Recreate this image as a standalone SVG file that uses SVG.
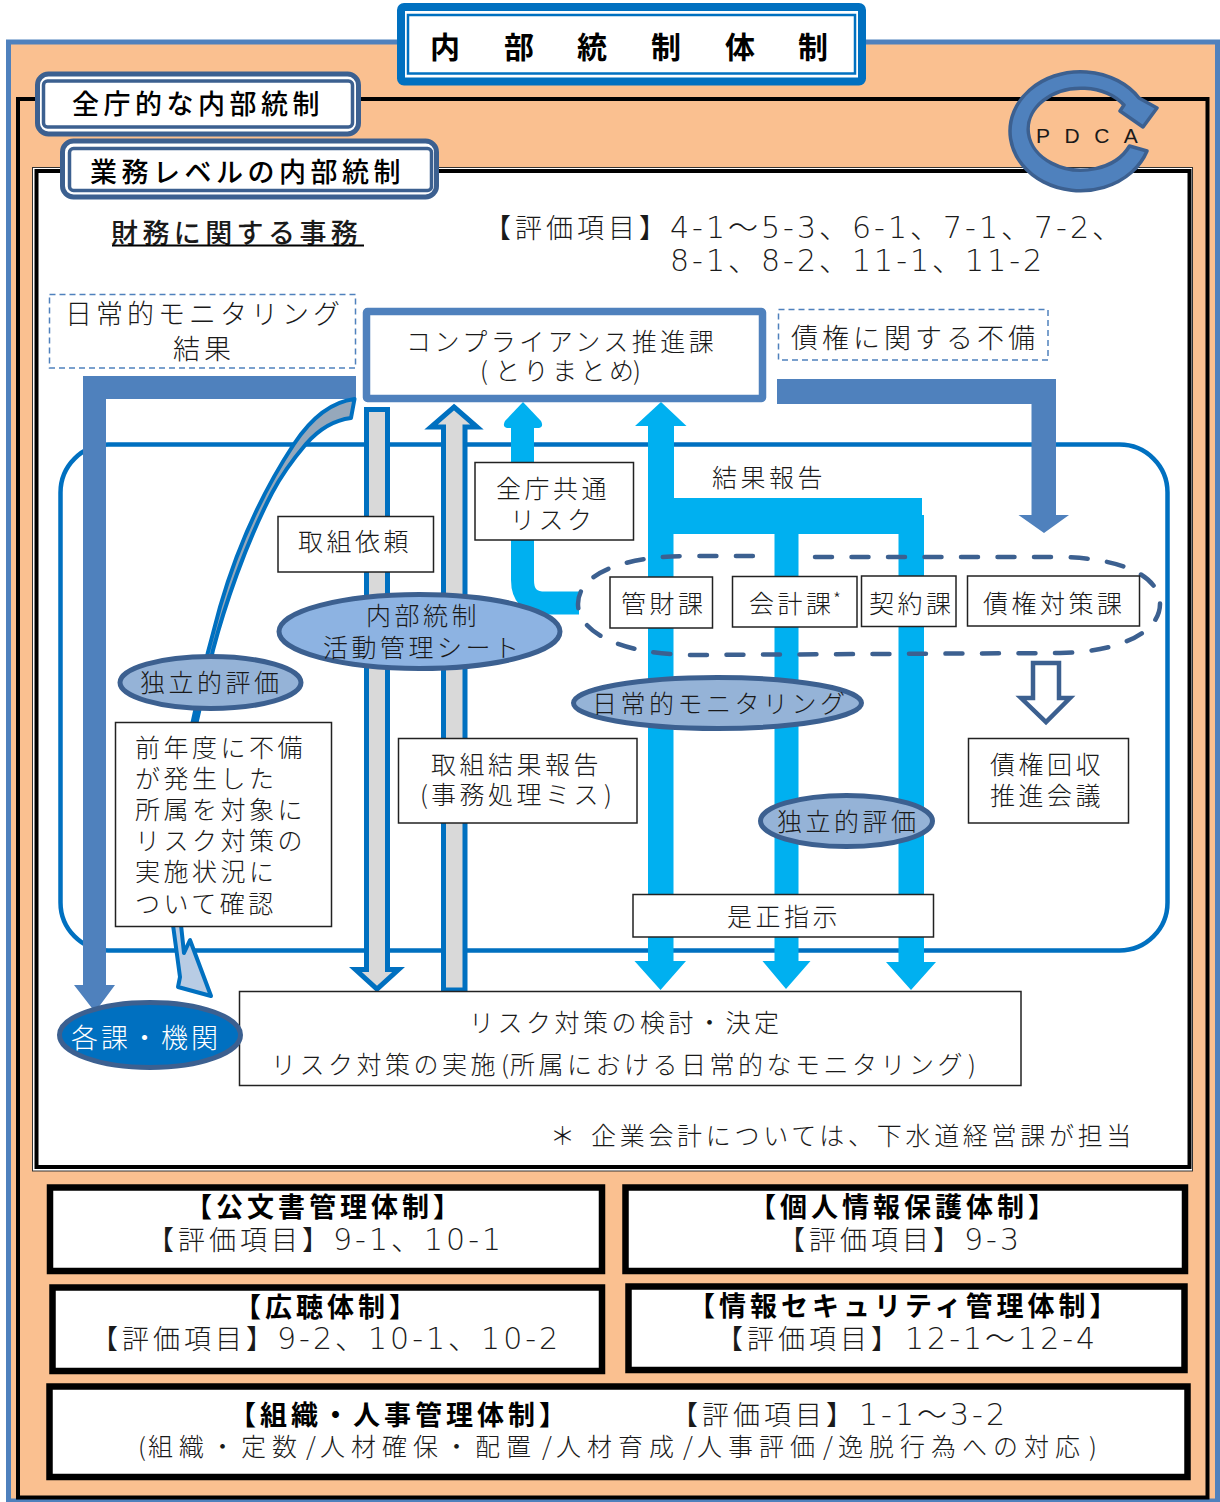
<svg xmlns="http://www.w3.org/2000/svg" width="1220" height="1502" viewBox="0 0 1220 1502">
<style>
text{font-family:"Noto Sans CJK JP","Noto Sans",sans-serif;font-size:25px;letter-spacing:3.5px;fill:#1a1a1a;font-weight:300}
.h{font-size:27px;letter-spacing:4px}
.b{font-size:27px;letter-spacing:4px;font-weight:700;fill:#000}
.m{font-size:27px;letter-spacing:4.500px;font-weight:500;fill:#000}
.n{font-family:"DejaVu Sans ExtraLight","DejaVu Sans","Noto Sans CJK JP",sans-serif;font-size:30px;letter-spacing:3px;font-weight:200}
.box{fill:#fff;stroke:#222;stroke-width:1.5}
.dash{fill:#fff;stroke:#4f81bd;stroke-width:1.5;stroke-dasharray:6 4}
.oval{fill:#95b3d7;stroke:#3c6090;stroke-width:5}
.thick{fill:#fff;stroke:#000;stroke-width:6.5}
.steel{fill:#4f81bd}
.sky{fill:#00b0f0}
.grey{fill:#d9d9d9;stroke:#0070c0;stroke-width:5}
</style>
<g id="background">
<rect x="8.500" y="42" width="1209" height="1459" fill="#fac090" stroke="#4f81bd" stroke-width="5"/>
<rect x="18" y="99" width="1189.500" height="1398.500" fill="none" stroke="#000" stroke-width="4"/>
<rect x="32.500" y="167.500" width="1160" height="1003.500" fill="#fff" stroke="#333" stroke-width="1"/>
<rect x="36.500" y="171" width="1153" height="996" fill="#fff" stroke="#000" stroke-width="4"/>
</g>
<g id="title">
<rect x="401" y="7" width="461" height="74.500" rx="3" fill="#fff" stroke="#0070c0" stroke-width="8"/>
<rect x="408" y="15" width="447" height="58.500" fill="#fff" stroke="#0070c0" stroke-width="2.500"/>
<text class="b" x="430" y="58" style="font-size:30px;letter-spacing:0">内</text>
<text class="b" x="504" y="58" style="font-size:30px;letter-spacing:0">部</text>
<text class="b" x="577" y="58" style="font-size:30px;letter-spacing:0">統</text>
<text class="b" x="651" y="58" style="font-size:30px;letter-spacing:0">制</text>
<text class="b" x="725" y="58" style="font-size:30px;letter-spacing:0">体</text>
<text class="b" x="798" y="58" style="font-size:30px;letter-spacing:0">制</text>
</g>
<g id="label-zencho">
<rect x="37.500" y="74" width="321" height="60" rx="11" fill="#fff" stroke="#3c6090" stroke-width="5"/>
<rect x="43.500" y="81" width="309" height="46" rx="4" fill="#fff" stroke="#3c6090" stroke-width="3.500"/>
<text class="m" x="72" y="114">全庁的な内部統制</text>
</g>
<g id="label-gyomu">
<rect x="62.500" y="141" width="374" height="56" rx="11" fill="#fff" stroke="#3c6090" stroke-width="5"/>
<rect x="69.500" y="148.500" width="362" height="42" rx="4" fill="#fff" stroke="#3c6090" stroke-width="3.500"/>
<text class="m" x="90" y="182">業務レベルの内部統制</text>
</g>
<g id="pdca">
<path d="M1147,151 A70.500 59.500 0 1 1 1139,98 L1157,108 L1143,127 L1120,111 L1124,105 A53 41 0 1 0 1129.500,146 Z" fill="#4f81bd" stroke="#3c6090" stroke-width="3.500" stroke-linejoin="round"/>
<text x="1036" y="143" style="font-family:'Liberation Sans',sans-serif;font-size:21px;letter-spacing:14.500px;font-weight:400">PDCA</text>
</g>
<g id="heading">
<text class="h" x="111" y="243" style="font-weight:500;letter-spacing:4.400px">財務に関する事務</text>
<line x1="112" y1="245.500" x2="364" y2="245.500" stroke="#000" stroke-width="2.200"/>
<text class="h" y="238"><tspan x="484">【評価項目】</tspan><tspan class="n" x="670">4-1～5-3、6-1、7-1、7-2、</tspan></text>
<text class="n" x="670" y="271">8-1、8-2、11-1、11-2</text>
</g>
<g id="region">
<rect x="60.500" y="444.500" width="1107" height="506" rx="48" fill="none" stroke="#0070c0" stroke-width="4.500"/>
</g>
<g id="connectors">
<path class="steel" d="M356,376 H83 V985 H74 L95,1012 L115,985 H106 V399 H356 Z"/>
<path class="steel" d="M777,379 H1056 V515 H1069 L1044,533 L1018.500,515 H1031.500 V404 H777 Z"/>
<path class="grey" d="M366.500,409.500 H387.500 V969.500 H398.500 L377,989 L355.500,969.500 H366.500 Z"/>
<path class="grey" d="M454,407 L477,427 H465 V990 H443.500 V427 H431 Z"/>
<path d="M354.500,399 C330,402 310,420 294,444 C265,488 238,545 220,607 L208,652 L192,725 L196,725 L213,650 C224,608 245,545 272,493 C283,472 295,457 306,444 C320,428 335,420 351,418 Z" fill="#96a8bb" stroke="#0070c0" stroke-width="4" stroke-linejoin="round"/>
<path d="M173,925 L180,977 L178,987 L211,996 L190,940 L184,953 L181,925 Z" fill="#b8cce4" stroke="#0070c0" stroke-width="4" stroke-linejoin="round"/>
<path d="M579,603 H545 Q522.500,603 522.500,580 V420" fill="none" stroke="#00b0f0" stroke-width="23"/>
<path class="sky" d="M523,402 L541,421 Q544,427 539,428 H507 Q502,427 505,421 Z"/>
<path class="sky" d="M661,402 L686.500,426 H674 V498 H922 V515 H924 V962 H936 L911,990 L886,962 H898.500 V534 H798.500 V961 H810.500 L786,989 L762.500,961 H774.500 V534 H673.500 V961 H686 L660.500,990 L634.500,961 H648 V426 H635 Z"/>
<g id="debt-arrow"><path d="M1033,663 H1059 V698 H1070 L1046,722 L1021,698 H1033 Z" fill="#fff" stroke="#3c6090" stroke-width="4.500"/></g>
</g>
<g id="group-depts">
<path d="M815,557 L1060,557 C1120,558 1160,575 1160,604 C1160,632 1120,652 1060,653 L690,655 C620,654 578,632 578,604 C578,575 620,556 690,556 L762,556" fill="none" stroke="#3c6090" stroke-width="4.500" stroke-dasharray="17 19.500" stroke-linecap="round"/>
</g>
<g id="daily-result"><rect class="dash" x="49.500" y="294.500" width="306" height="73.500"/>
<text class="h" x="65" y="324">日常的モニタリング</text><text class="h" x="173" y="359">結果</text></g>
<g id="compliance"><rect x="366.500" y="311.500" width="396" height="87" rx="1" fill="#fff" stroke="#4f81bd" stroke-width="7.500"/>
<text x="406" y="351">コンプライアンス推進課</text><text y="380"><tspan x="480">(</tspan><tspan x="495">とりまとめ</tspan><tspan x="633">)</tspan></text></g>
<g id="debt-defect"><rect class="dash" x="778.500" y="309.500" width="269.500" height="50.500"/>
<text class="h" x="791" y="348">債権に関する不備</text></g>
<g id="request"><rect class="box" x="278" y="516.500" width="155.500" height="55.500"/><text x="298" y="551">取組依頼</text></g>
<g id="common-risk"><rect class="box" x="475" y="462.500" width="158.500" height="77.500"/><text x="496" y="498">全庁共通</text><text x="510" y="529">リスク</text></g>
<g id="result-label"><text x="712" y="487">結果報告</text></g>
<g id="kanzai"><rect class="box" x="610" y="577" width="102.500" height="51"/><text x="621" y="613">管財課</text></g>
<g id="kaikei"><rect class="box" x="732.500" y="576.500" width="124.500" height="50.500"/><text x="749" y="613">会計課</text><text x="833" y="606" style="font-size:18px;letter-spacing:0">*</text></g>
<g id="keiyaku"><rect class="box" x="861.500" y="576" width="94.500" height="50.500"/><text x="869" y="613">契約課</text></g>
<g id="saiken-taisaku"><rect class="box" x="967.500" y="576" width="172" height="50"/><text x="983" y="613">債権対策課</text></g>
<g id="sheet"><ellipse cx="419.500" cy="631.500" rx="140.500" ry="37" class="oval" style="fill:#8db3e2"/><text x="366" y="625">内部統制</text><text x="323" y="657">活動管理シート</text></g>
<g id="independent-1"><ellipse cx="210.500" cy="682.500" rx="90.500" ry="26" class="oval"/><text x="140" y="692">独立的評価</text></g>
<g id="daily-monitoring"><ellipse cx="717.500" cy="703" rx="144" ry="25.500" class="oval"/><text x="592" y="713">日常的モニタリング</text></g>
<g id="independent-2"><ellipse cx="846.500" cy="821" rx="86" ry="25.500" class="oval"/><text x="777" y="831">独立的評価</text></g>
<g id="prior-year"><rect class="box" x="115.500" y="722.500" width="216" height="204"/>
<text x="135" y="757">前年度に不備</text><text x="135" y="788">が発生した</text><text x="135" y="819">所属を対象に</text><text x="135" y="850">リスク対策の</text><text x="135" y="881">実施状況に</text><text x="135" y="913">ついて確認</text></g>
<g id="report"><rect class="box" x="398.500" y="738.500" width="238.500" height="84.500"/><text x="431" y="774">取組結果報告</text><text y="804"><tspan x="420">(</tspan><tspan x="431">事務処理ミス</tspan><tspan x="604">)</tspan></text></g>
<g id="recovery"><rect class="box" x="968.500" y="738.500" width="160" height="84.500"/><text x="990" y="774">債権回収</text><text x="990" y="805">推進会議</text></g>
<g id="correction"><rect class="box" x="633" y="894.500" width="300.500" height="42.500"/><text x="727" y="926">是正指示</text></g>
<g id="measures"><rect class="box" x="239.500" y="991.500" width="781.500" height="94"/><text x="469" y="1032">リスク対策の検討・決定</text><text y="1074"><tspan x="271">リスク対策の実施</tspan><tspan x="501">(</tspan><tspan x="510">所属における日常的なモニタリング</tspan><tspan x="968">)</tspan></text></g>
<g id="departments"><ellipse cx="150" cy="1035" rx="90.500" ry="32.500" fill="#0070c0" stroke="#3c6090" stroke-width="5"/><text x="71" y="1048" style="font-size:27px;letter-spacing:3px;fill:#fff">各課・機関</text></g>
<g id="footnote"><text x="550" y="1145">＊</text><text x="591" y="1145" style="letter-spacing:3.700px">企業会計については、下水道経営課が担当</text></g>
<g id="koubunsho"><rect class="thick" x="50" y="1187.500" width="552" height="83.500"/><text class="b" x="185" y="1217">【公文書管理体制】</text><text class="h" y="1250"><tspan x="147">【評価項目】</tspan><tspan class="n" x="333">9-1、10-1</tspan></text></g>
<g id="kojin"><rect class="thick" x="625.500" y="1187.500" width="559.500" height="83.500"/><text class="b" x="749" y="1217">【個人情報保護体制】</text><text class="h" y="1250"><tspan x="778">【評価項目】</tspan><tspan class="n" x="964">9-3</tspan></text></g>
<g id="kouchou"><rect class="thick" x="52.500" y="1287.500" width="549.500" height="83.500"/><text class="b" x="234" y="1317">【広聴体制】</text><text class="h" y="1349"><tspan x="91">【評価項目】</tspan><tspan class="n" x="277">9-2、10-1、10-2</tspan></text></g>
<g id="joho"><rect class="thick" x="628.500" y="1286.500" width="556" height="83.500"/><text class="b" x="688" y="1316">【情報セキュリティ管理体制】</text><text class="h" y="1349"><tspan x="716">【評価項目】</tspan><tspan class="n" x="905">12-1～12-4</tspan></text></g>
<g id="soshiki"><rect class="thick" x="49.500" y="1386.500" width="1138" height="90.500"/><text class="b" x="229" y="1425">【組織・人事管理体制】</text><text class="h" y="1425"><tspan x="671">【評価項目】</tspan><tspan class="n" x="859">1-1～3-2</tspan></text>
<text y="1456" style="letter-spacing:6px"><tspan x="138">(</tspan><tspan x="148">組織・定数</tspan><tspan x="306">/</tspan><tspan x="320">人材確保・配置</tspan><tspan x="542">/</tspan><tspan x="556">人材育成</tspan><tspan x="683">/</tspan><tspan x="697">人事評価</tspan><tspan x="823">/</tspan><tspan x="838">逸脱行為への対応</tspan><tspan x="1089">)</tspan></text></g>
</svg>
